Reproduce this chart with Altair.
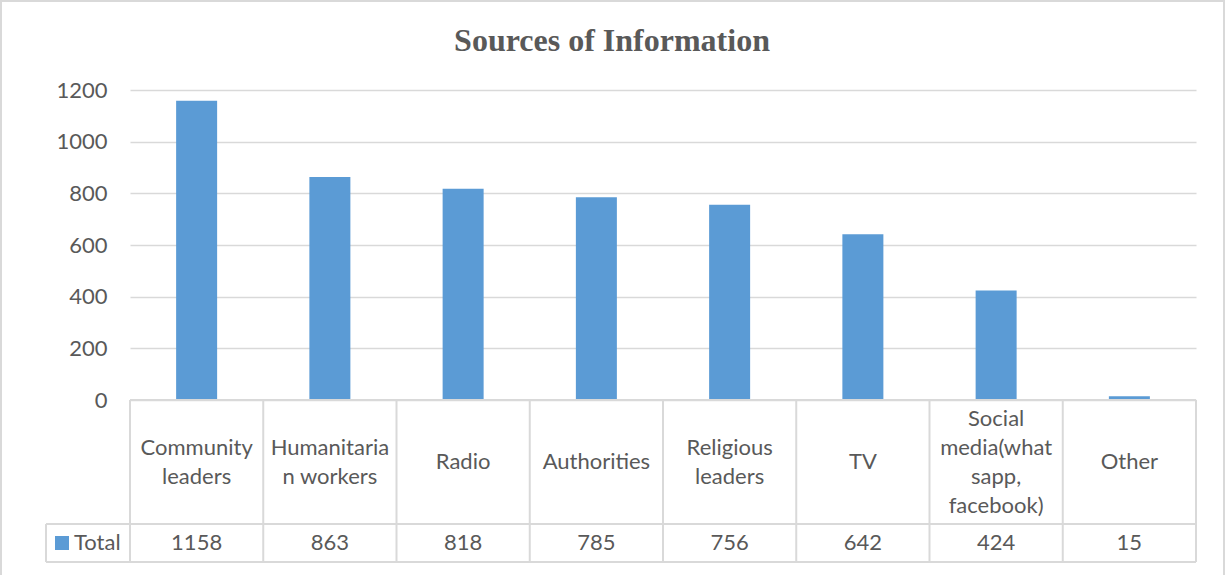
import altair as alt
import pandas as pd

# ---- data ----
categories = ["Community leaders", "Humanitarian workers", "Radio", "Authorities",
              "Religious leaders", "TV", "Social media(whatsapp, facebook)", "Other"]
wrapped_labels = ["Community\nleaders", "Humanitaria\nn workers", "Radio", "Authorities",
                  "Religious\nleaders", "TV", "Social\nmedia(what\nsapp,\nfacebook)", "Other"]
totals = [1158, 863, 818, 785, 756, 642, 424, 15]
y_ticks = [0, 200, 400, 600, 800, 1000, 1200]
series_name = "Total"
title_text = "Sources of Information"

df = pd.DataFrame({"cat": categories, "label": wrapped_labels, "total": totals})
one = pd.DataFrame({"k": [0]})

# ---- style ----
W, H = 1066, 310
TEXT = "#595959"
LINE = "#D9D9D9"
BLUE = "#5B9BD5"
FONT = "Lato"
FS = 22
LH = 29

xband = alt.X("cat:N", sort=categories, axis=None,
              scale=alt.Scale(paddingInner=0, paddingOuter=0))

base = alt.Chart(df)

border = alt.Chart(one).mark_rect(filled=False, stroke=LINE, strokeWidth=2).encode(
    x=alt.value(-129), x2=alt.value(W + 28), y=alt.value(-89), y2=alt.value(H + 200))

bars = base.mark_bar(size=41, color=BLUE).encode(
    x=xband,
    y=alt.Y("total:Q", scale=alt.Scale(domain=[0, 1200], nice=False),
            axis=alt.Axis(values=y_ticks, format="d", title=None, domain=False, ticks=False,
                          grid=True, gridColor=LINE, gridWidth=1.5,
                          labelFont=FONT, labelFontSize=FS, labelColor=TEXT,
                          labelPadding=23)))

vlines = base.mark_rule(color=LINE, strokeWidth=2).encode(
    x=alt.X("cat:N", sort=categories, axis=None, bandPosition=0),
    y=alt.value(H), y2=alt.value(472))

right_line = alt.Chart(one).mark_rule(color=LINE, strokeWidth=2).encode(
    x=alt.value(W), y=alt.value(H), y2=alt.value(472))
left_line = alt.Chart(one).mark_rule(color=LINE, strokeWidth=2).encode(
    x=alt.value(-84), y=alt.value(434), y2=alt.value(472))
top_line = alt.Chart(one).mark_rule(color=LINE, strokeWidth=2).encode(
    x=alt.value(0), x2=alt.value(W), y=alt.value(H))
mid_line = alt.Chart(one).mark_rule(color=LINE, strokeWidth=2).encode(
    x=alt.value(-84), x2=alt.value(W), y=alt.value(434))
bot_line = alt.Chart(one).mark_rule(color=LINE, strokeWidth=2).encode(
    x=alt.value(-84), x2=alt.value(W), y=alt.value(472))

cat_text = base.transform_calculate(
    ypos=f"372 - (length(split(datum.label, '\\n')) - 1) * {LH / 2}"
).mark_text(lineBreak="\n", lineHeight=LH, font=FONT, fontSize=FS,
            color=TEXT, baseline="middle").encode(
    x=xband, y=alt.Y("ypos:Q", scale=None, axis=None), text="label:N")

val_text = base.mark_text(font=FONT, fontSize=FS, color=TEXT, baseline="middle").encode(
    x=xband, y=alt.value(453), text="total:Q")

legend_sq = alt.Chart(one).mark_rect(color=BLUE).encode(
    x=alt.value(-75), x2=alt.value(-61), y=alt.value(446), y2=alt.value(460))
legend_txt = alt.Chart(one).mark_text(align="left", baseline="middle", font=FONT,
                                      fontSize=FS, color=TEXT).encode(
    x=alt.value(-56), y=alt.value(453), text=alt.value(series_name))

chart = alt.layer(
    border, bars, vlines, right_line, left_line, top_line, mid_line, bot_line,
    cat_text, val_text, legend_sq, legend_txt
).properties(
    width=W, height=H,
    autosize=alt.AutoSizeParams(type="none"),
    padding={"left": 130, "top": 90, "right": 29, "bottom": 175},
    title=alt.Title(title_text, font="Liberation Serif", fontSize=32, fontWeight="bold",
                    color=TEXT, anchor="middle", dx=-51, offset=22, dy=80),
    background="white",
).configure_view(strokeWidth=0)

chart.save("out.html", embed_options={"renderer": "svg", "actions": False})
